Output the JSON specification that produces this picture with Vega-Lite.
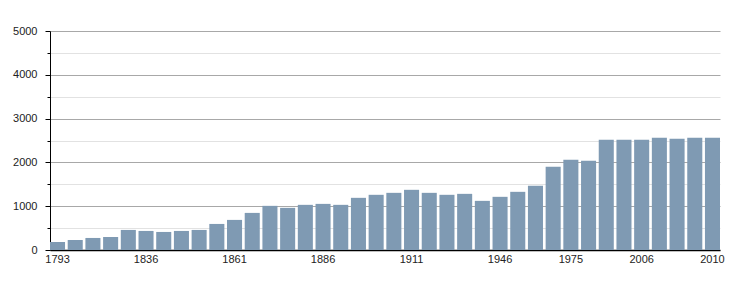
{
  "$schema": "https://vega.github.io/schema/vega-lite/v6.json",
  "width": 670,
  "height": 219,
  "autosize": {"type": "none"},
  "padding": {"left": 50, "top": 31, "right": 30, "bottom": 50},
  "background": "white",
  "config": {
    "view": {"stroke": null},
    "axis": {"labelFont": "Liberation Sans", "labelFontSize": 11, "labelColor": "#222222"}
  },
  "data": {
    "values": [
      {"year": 1793, "pop": 183}, {"year": 1800, "pop": 229}, {"year": 1806, "pop": 275},
      {"year": 1821, "pop": 298}, {"year": 1831, "pop": 458}, {"year": 1836, "pop": 435},
      {"year": 1841, "pop": 412}, {"year": 1846, "pop": 435}, {"year": 1851, "pop": 458},
      {"year": 1856, "pop": 595}, {"year": 1861, "pop": 687}, {"year": 1866, "pop": 847},
      {"year": 1872, "pop": 1008}, {"year": 1876, "pop": 962}, {"year": 1881, "pop": 1031},
      {"year": 1886, "pop": 1053}, {"year": 1891, "pop": 1031}, {"year": 1896, "pop": 1191},
      {"year": 1901, "pop": 1260}, {"year": 1906, "pop": 1305}, {"year": 1911, "pop": 1374},
      {"year": 1921, "pop": 1305}, {"year": 1926, "pop": 1260}, {"year": 1931, "pop": 1282},
      {"year": 1936, "pop": 1122}, {"year": 1946, "pop": 1214}, {"year": 1954, "pop": 1328},
      {"year": 1962, "pop": 1466}, {"year": 1968, "pop": 1901}, {"year": 1975, "pop": 2061},
      {"year": 1982, "pop": 2038}, {"year": 1990, "pop": 2519}, {"year": 1999, "pop": 2519},
      {"year": 2006, "pop": 2519}, {"year": 2007, "pop": 2565}, {"year": 2008, "pop": 2542},
      {"year": 2009, "pop": 2565}, {"year": 2010, "pop": 2565}
    ]
  },
  "mark": {"type": "bar", "color": "#7f9ab3"},
  "encoding": {
    "x": {
      "field": "year",
      "type": "ordinal",
      "scale": {"paddingInner": 0.15, "paddingOuter": 0.0},
      "axis": {
        "title": null,
        "values": [1793, 1836, 1861, 1886, 1911, 1946, 1975, 2006, 2010],
        "labelAngle": 0,
        "ticks": false,
        "labelPadding": 3,
        "domainColor": "#000000",
        "domainWidth": 1.5
      }
    },
    "y": {
      "field": "pop",
      "type": "quantitative",
      "scale": {"domain": [0, 5000], "nice": false},
      "axis": {
        "title": null,
        "values": [0, 500, 1000, 1500, 2000, 2500, 3000, 3500, 4000, 4500, 5000],
        "labelExpr": "datum.value % 1000 === 0 ? datum.value : ''",
        "grid": true,
        "gridColor": {"condition": {"test": "datum.value % 1000 === 0", "value": "#a8a8a8"}, "value": "#e2e2e2"},
        "tickSize": {"condition": {"test": "datum.value % 1000 === 0", "value": 5}, "value": 3},
        "tickColor": "#000000",
        "domainColor": "#000000",
        "labelPadding": 8
      }
    }
  }
}
